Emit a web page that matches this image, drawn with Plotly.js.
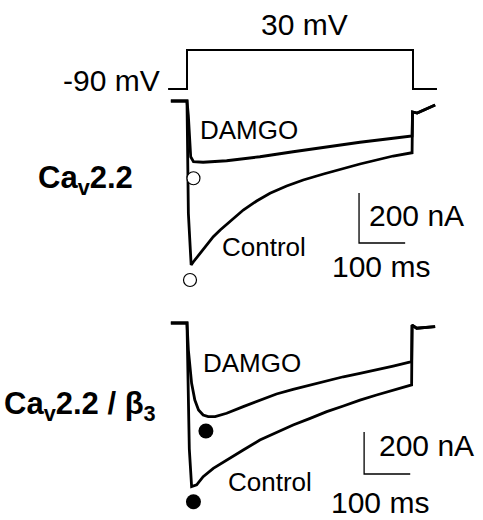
<!DOCTYPE html>
<html>
<head>
<meta charset="utf-8">
<script src="https://cdn.plot.ly/plotly-3.0.1.min.js"></script>
<style>html,body{margin:0;padding:0;background:#fff;}#chart{width:483px;height:520px;}</style>
</head>
<body>
<div id="chart"></div>
<script>
// Voltage protocol (ms, mV)
const stepTime = [-41, 0, 0, 490, 490, 542];
const stepVoltage = [-90, -90, 30, 30, -90, -90];
const stepLabels = ["30 mV", "-90 mV"];

// Cav2.2 (top) currents (ms, nA)
const topControlTime = [-35, 0, 3, 9, 14, 35, 57, 72, 93, 122, 151, 180, 216, 252, 296, 339, 375, 411, 447, 488, 489, 499, 538];
const topControlCurrent = [0, 0, -450, -656, -643, -596, -543, -516, -483, -436, -400, -369, -340, -316, -292, -269, -252, -236, -220, -207, -44, -48, -16];
const topDamgoTime = [-35, 0, 3, 5, 8, 14, 35, 86, 158, 230, 303, 375, 447, 488, 489, 499, 538];
const topDamgoCurrent = [0, 0, -60, -156, -223, -243, -245, -239, -223, -203, -183, -165, -149, -140, -44, -48, -16];
const topPeakTime = [14, 6.5];
const topPeakCurrent = [-309, -716];

// Cav2.2 / beta3 (bottom) currents (ms, nA)
const botControlTime = [-35, 0, 5, 10, 21, 35, 57, 86, 122, 158, 194, 230, 267, 303, 339, 375, 411, 447, 487, 488, 498, 538];
const botControlCurrent = [0, 0, -600, -779, -771, -732, -692, -652, -605, -557, -521, -486, -454, -422, -395, -367, -343, -319, -295, -10, -25, -17];
const botDamgoTime = [-35, 0, 3, 10, 17, 25, 35, 46, 61, 86, 122, 158, 194, 230, 267, 303, 339, 375, 411, 447, 487, 488, 498, 538];
const botDamgoCurrent = [0, 0, -129, -287, -367, -414, -438, -446, -446, -430, -398, -367, -338, -316, -295, -276, -256, -240, -224, -205, -184, -10, -25, -17];
const botPeakTime = [41, 14];
const botPeakCurrent = [-514, -851];

// Scale bars
const scaleTimeMs = 100;
const scaleCurrentNA = 200;
const scaleLabels = ["200 nA", "100 ms"];
const traceLabels = ["DAMGO", "Control"];
const panelLabels = ["<b>Ca<sub>v</sub>2.2</b>", "<b>Ca<sub>v</sub>2.2 / β<sub>3</sub></b>"];

const W = 483, H = 520;
const msPerPx = 490 / 226, t0px = 187;
const xr = [-t0px * msPerPx, (W - t0px) * msPerPx];
// voltage axis: -90 at 89px, 30 at 50px
const mvPerPx = 120 / 39;
const yVr = [-90 - (H - 89) * mvPerPx, 30 + 50 * mvPerPx];
// top current axis: 0 at 101 px, 200 nA = 50 px
const nA1 = 200 / 50;
const y2r = [-(H - 101) * nA1, 101 * nA1];
// bottom current axis: 0 at 323 px, 200 nA = 42 px
const nA2 = 200 / 42;
const y3r = [-(H - 323) * nA2, 323 * nA2];

const line = (w) => ({color: '#000', width: w});
const traces = [
  {x: stepTime, y: stepVoltage, yaxis: 'y', mode: 'lines', line: line(2)},
  {x: topControlTime, y: topControlCurrent, yaxis: 'y2', mode: 'lines', line: line(2.8)},
  {x: topDamgoTime, y: topDamgoCurrent, yaxis: 'y2', mode: 'lines', line: line(2.8)},
  {x: topPeakTime, y: topPeakCurrent, yaxis: 'y2', mode: 'markers',
   marker: {symbol: 'circle', size: 13, color: '#fff', line: {color: '#000', width: 1.2}}},
  {x: botControlTime, y: botControlCurrent, yaxis: 'y3', mode: 'lines', line: line(2.8)},
  {x: botDamgoTime, y: botDamgoCurrent, yaxis: 'y3', mode: 'lines', line: line(2.8)},
  {x: botPeakTime, y: botPeakCurrent, yaxis: 'y3', mode: 'markers',
   marker: {symbol: 'circle', size: 15, color: '#000', line: {color: '#000', width: 0}}},
  // top scale bar
  {x: [373, 373, 373 + scaleTimeMs], y: [-368, -368 - scaleCurrentNA, -368 - scaleCurrentNA], yaxis: 'y2', mode: 'lines', line: line(1.3)},
  // bottom scale bar
  {x: [384, 384, 384 + scaleTimeMs], y: [-519, -519 - scaleCurrentNA, -519 - scaleCurrentNA], yaxis: 'y3', mode: 'lines', line: line(1.3)}
];

const fam = 'Liberation Sans, Arial, sans-serif';
function ann(text, px, py, size, xanchor) {
  return {text: text, x: px / W, y: 1 - py / H, xref: 'paper', yref: 'paper',
    xanchor: xanchor || 'left', yanchor: 'middle', showarrow: false,
    font: {family: fam, size: size, color: '#000'}};
}
const annotations = [
  ann(stepLabels[0], 304, 24, 30, 'center'),
  ann(stepLabels[1], 162, 80, 30, 'right'),
  ann(panelLabels[0], 36, 180, 31),
  ann(panelLabels[1], 2, 406, 31),
  ann(traceLabels[0], 198, 130, 26),
  ann(traceLabels[1], 220, 247, 26),
  ann(traceLabels[0], 201, 363, 26),
  ann(traceLabels[1], 226, 482, 26),
  ann(scaleLabels[0], 367, 215, 30),
  ann(scaleLabels[1], 330, 266, 30),
  ann(scaleLabels[0], 377, 445, 30),
  ann(scaleLabels[1], 329, 502, 30)
];

const hidden = (r) => ({range: r, visible: false, fixedrange: true});
const layout = {
  width: W, height: H,
  margin: {l: 0, r: 0, t: 0, b: 0, pad: 0},
  paper_bgcolor: '#fff', plot_bgcolor: '#fff',
  showlegend: false,
  xaxis: hidden(xr),
  yaxis: hidden(yVr),
  yaxis2: Object.assign(hidden(y2r), {overlaying: 'y'}),
  yaxis3: Object.assign(hidden(y3r), {overlaying: 'y'}),
  annotations: annotations
};
Plotly.newPlot('chart', traces, layout, {staticPlot: true, displayModeBar: false});
</script>
</body>
</html>
